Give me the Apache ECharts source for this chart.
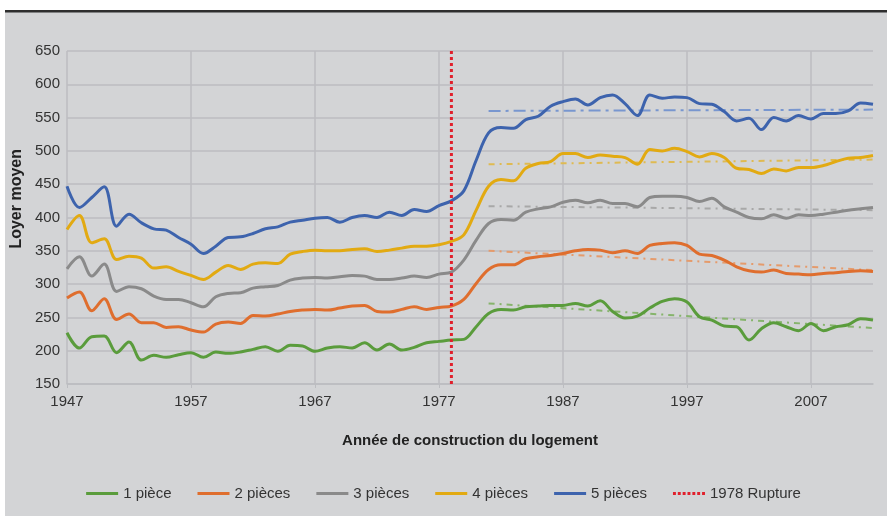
<!DOCTYPE html>
<html>
<head>
<meta charset="utf-8">
<style>
	html, body { margin: 0; padding: 0; background: #fff; }
	#loyer-echarts { width: 887px; height: 516px; }
</style>
<script src="https://cdn.jsdelivr.net/npm/echarts@6/dist/echarts.min.js"></script>
</head>
<body>
<div id="loyer-echarts"></div>
<script>
// années 1947 - 2012
var years = [];
for (var y = 1947; y <= 2012; y++) years.push(String(y));

var p1 = [227,204,221,222,197,213,186,193,190,194,197,190,198,196,198,202,206,199,208,207,
	199,204,206,204,212,201,210,201,205,212,214,216,217,236,256,262,261,266,267,268,
	268,271,267,275,259,249,252,264,274,278,273,251,246,237,236,216,233,242,236,230,
	241,230,236,239,248,246];
var p2 = [279,288,260,278,247,255,242,242,235,236,231,228,240,243,241,253,252,255,259,261,
	262,261,264,267,268,259,258,262,266,262,265,267,277,301,322,329,329,338,341,343,
	346,350,352,351,347,350,346,358,361,362,358,345,343,336,326,320,318,321,316,315,
	314,316,317,319,320,319];
var p3 = [323,341,312,330,289,296,293,282,277,277,272,266,281,286,287,294,296,298,306,309,
	310,309,311,313,312,307,307,309,312,310,315,318,336,366,391,397,396,408,413,416,
	423,426,422,426,421,421,416,430,432,432,430,424,429,416,408,400,398,404,399,404,
	403,405,408,411,413,415];
var p4 = [382,403,362,368,337,342,339,324,326,319,313,307,318,328,322,330,332,331,345,349,
	351,350,350,352,353,349,351,354,357,357,359,364,374,411,447,457,455,474,481,484,
	496,496,490,494,492,490,480,502,500,504,499,491,496,490,474,472,466,473,470,475,
	475,478,484,489,490,493];
var p5 = [447,415,430,446,387,405,392,383,381,370,360,346,357,370,371,376,383,386,393,396,
	399,400,393,400,403,400,408,403,412,409,418,425,440,486,527,535,534,547,552,567,
	574,578,569,580,584,571,553,584,579,581,580,571,570,559,545,549,532,550,545,553,
	548,556,556,560,572,570];

// tendances après 1981 (début, fin)
var trendYears = ['1981', '2012'];
var t1 = [271, 234];
var t2 = [350, 321];
var t3 = [417, 411];
var t4 = [480, 487];
var t5 = [560, 562];

var ruptureYear = '1978';
var yTicks = [150, 650];

var names = ['1 pièce', '2 pièces', '3 pièces', '4 pièces', '5 pièces'],
	colors = ['#5a9c3c', '#df6e2e', '#8a8a8a', '#e2aa12', '#3d63ad'],
	trendColors = ['#86b46c', '#e59b6c', '#a8a8a8', '#dfba52', '#7896cf'],
	values = [p1, p2, p3, p4, p5],
	trends = [t1, t2, t3, t4, t5];

var font = "'Liberation Sans', Arial, sans-serif";
var tenYears = function(index){ return index % 10 === 0; };

// icônes de légende : trait plein / pointillés
var lineIcon = 'path://M0,0H32V3H0Z',
	dotIcon = 'path://M0,0h3v3h-3zM5,0h3v3h-3zM10,0h3v3h-3zM15,0h3v3h-3zM20,0h3v3h-3zM25,0h3v3h-3zM30,0h3v3h-3z';

var series = [];
values.forEach(function(data, i){
	series.push({
		name: names[i],
		type: 'line',
		data: data,
		smooth: 0.35,
		symbol: 'none',
		z: 3,
		lineStyle: { color: colors[i], width: 3 },
		itemStyle: { color: colors[i] }
	});
});
trends.forEach(function(t, i){
	series.push({
		name: 'tendance ' + (i + 1),
		type: 'line',
		data: [[trendYears[0], t[0]], [trendYears[1], t[1]]],
		symbol: 'none',
		silent: true,
		z: 2,
		lineStyle: { color: trendColors[i], width: 2, type: i === 4 ? [12, 5, 3, 5] : [6, 5, 2, 5] }
	});
});
series.push({
	name: '1978 Rupture',
	type: 'line',
	data: [[ruptureYear, yTicks[0]], [ruptureYear, yTicks[1]]],
	symbol: 'none',
	z: 4,
	lineStyle: { color: '#e0202c', width: 3, type: [3, 3] },
	itemStyle: { color: '#e0202c' }
});

var legendData = names.map(function(n){ return { name: n, icon: lineIcon }; });
legendData.push({ name: '1978 Rupture', icon: dotIcon });

var chart = echarts.init(document.querySelector('#loyer-echarts'));

chart.setOption({
	animation: false,
	backgroundColor: '#fff',
	textStyle: { fontFamily: font },
	graphic: [
		{ type: 'rect', z: -10, shape: { x: 5, y: 12, width: 882, height: 504 }, style: { fill: '#d3d4d6' } },
		{ type: 'rect', z: -9, shape: { x: 5, y: 10, width: 882, height: 2.5 }, style: { fill: '#2e2e2e' } },
		{
			type: 'text', left: 9, top: 149, rotation: Math.PI / 2,
			style: { text: 'Loyer moyen', font: 'bold 16px ' + font, fill: '#222' }
		}
	],
	grid: { left: 67, right: 14, top: 51, bottom: 132 },
	legend: {
		data: legendData,
		left: 'center',
		top: 481,
		itemWidth: 32,
		itemHeight: 14,
		itemGap: 26,
		itemStyle: { borderWidth: 0 },
		lineStyle: { width: 0 },
		textStyle: { fontSize: 15, color: '#333', fontFamily: font }
	},
	xAxis: {
		type: 'category',
		data: years,
		boundaryGap: false,
		name: 'Année de construction du logement',
		nameLocation: 'middle',
		nameGap: 49,
		nameTextStyle: { fontSize: 15, fontWeight: 'bold', color: '#222' },
		axisLine: { lineStyle: { color: '#bcbdc1', width: 1.5 } },
		axisTick: { show: true, interval: tenYears, length: 4, lineStyle: { color: '#bcbdc1' } },
		axisLabel: { interval: tenYears, fontSize: 15, color: '#333', margin: 10 },
		splitLine: { show: true, interval: tenYears, lineStyle: { color: '#bcbdc1', width: 1.5 } }
	},
	yAxis: {
		type: 'value',
		min: yTicks[0],
		max: yTicks[1],
		interval: 50,
		axisLine: { show: false },
		axisTick: { show: false },
		axisLabel: { fontSize: 15, color: '#333', margin: 7 },
		splitLine: { lineStyle: { color: '#bcbdc1', width: 1.5 } }
	},
	series: series
});
</script>
</body>
</html>
